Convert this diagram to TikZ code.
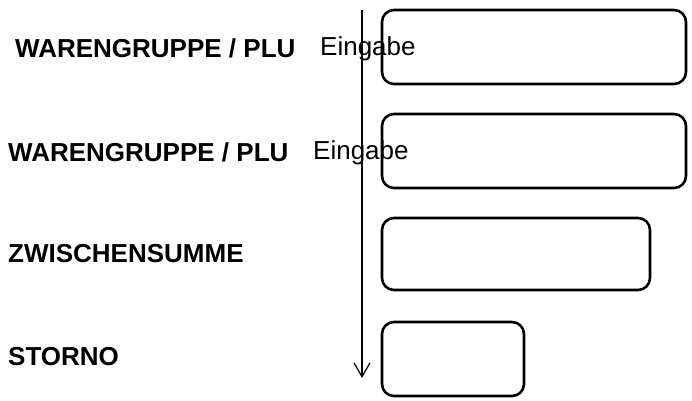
\documentclass[tikz,border=0pt]{standalone}
\usepackage{fontspec}
\setmainfont{Liberation Sans}
\usetikzlibrary{arrows.meta,positioning}
\tikzset{
  >={Straight Barb[length=14pt,width=16pt]},
  field/.style={draw, line width=2.6pt, rounded corners=12pt},
  key/.style={anchor=west, inner sep=0pt, font=\fontsize{26}{28}\selectfont\bfseries},
  hint/.style={anchor=west, inner sep=0pt, font=\fontsize{26}{28}\selectfont},
}
\begin{document}
\begin{tikzpicture}[x=1pt, y=-1pt]
  \useasboundingbox (0,0) rectangle (692,400);
  % input fields
  \draw [field] (382,10) rectangle (686,84);
  \draw [field] (382,114) rectangle (686,188);
  \draw [field] (382,218) rectangle (650,290);
  \draw [field] (382,322) rectangle (524,396);
  % labels
  \node [key] (wg1) at (15,48) {WARENGRUPPE / PLU};
  \node [hint] (in1) at (320,49) {Eingabe};
  \node [key] (wg2) at (8,152) {WARENGRUPPE / PLU};
  \node [hint] (in2) at (313,153) {Eingabe};
  \node [key] (zs) at (8,254) {ZWISCHENSUMME};
  \node [key] (st) at (8,357) {STORNO};
  % flow arrow
  \coordinate (top) at (362,10);
  \coordinate (bot) at (362,378);
  \draw [->, line width=1.2pt] (top) -- (bot);
\end{tikzpicture}
\end{document}
